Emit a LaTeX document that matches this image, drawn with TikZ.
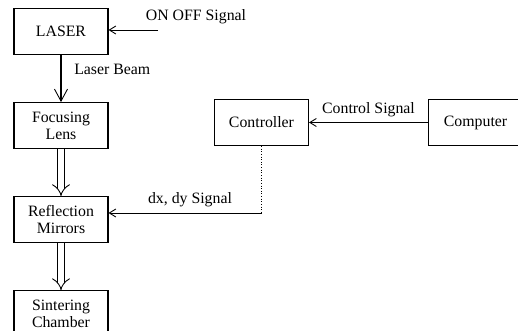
\documentclass[tikz,border=0pt]{standalone}
\usepackage{fontspec}
\setmainfont{Liberation Serif}
\usetikzlibrary{arrows.meta, positioning}

\begin{document}
\begin{tikzpicture}[
	node distance=0.94cm,
	font=\fontsize{9}{9.5}\selectfont,
	box/.style={draw, line width=0.6pt, align=center, minimum width=1.88cm, minimum height=0.92cm},
	beam/.style={-{Straight Barb[length=2.4mm, width=2.6mm, line width=0.5pt]}, line width=0.6pt},
	dbeam/.style={double, double distance=0.11cm, line width=0.5pt, -{Implies[length=2.2mm, width=3.2mm]}},
	sig/.style={-{Straight Barb[length=1.3mm, width=1.6mm]}, line width=0.5pt},
	lbl/.style={inner sep=1pt}
]
\useasboundingbox (0,0) rectangle (10.36,-6.62);
\clip (0,0) rectangle (10.36,-6.62);

\node[box] (laser) at (1.22,-0.63) {LASER};
\node[box, below=of laser] (lens) {Focusing\\Lens};
\node[box, below=of lens] (mirror) {Reflection\\Mirrors};
\node[box, below=of mirror] (chamber) {Sintering\\Chamber};

\node[box] (ctrl) at (5.23,-2.45) {Controller};
\node[box, right=2.38cm of ctrl] (pc) {Computer};

% signal lines
\coordinate (onoff) at (3.16,-0.6);
\node[lbl] (onofflbl) at (3.92,-0.34) {ON OFF Signal};
\coordinate (dxdy) at (ctrl.south |- 0,-4.26);

\draw[beam] (laser) -- node[lbl, right, pos=0.3, xshift=0.22cm] {Laser Beam} (lens);
\draw[dbeam] (lens) -- (mirror);
\draw[dbeam] (mirror) -- (chamber);
\draw[sig] (onoff) -- (laser.east |- onoff);
\draw[sig] (pc) -- node[lbl, above=2pt] {Control Signal} (ctrl);
\draw[line width=0.5pt, densely dotted] (ctrl) -- (dxdy);
\draw[sig] (dxdy) -- node[lbl, above=2pt, xshift=0.1cm] {dx, dy Signal} (mirror.east |- dxdy);
\end{tikzpicture}
\end{document}
